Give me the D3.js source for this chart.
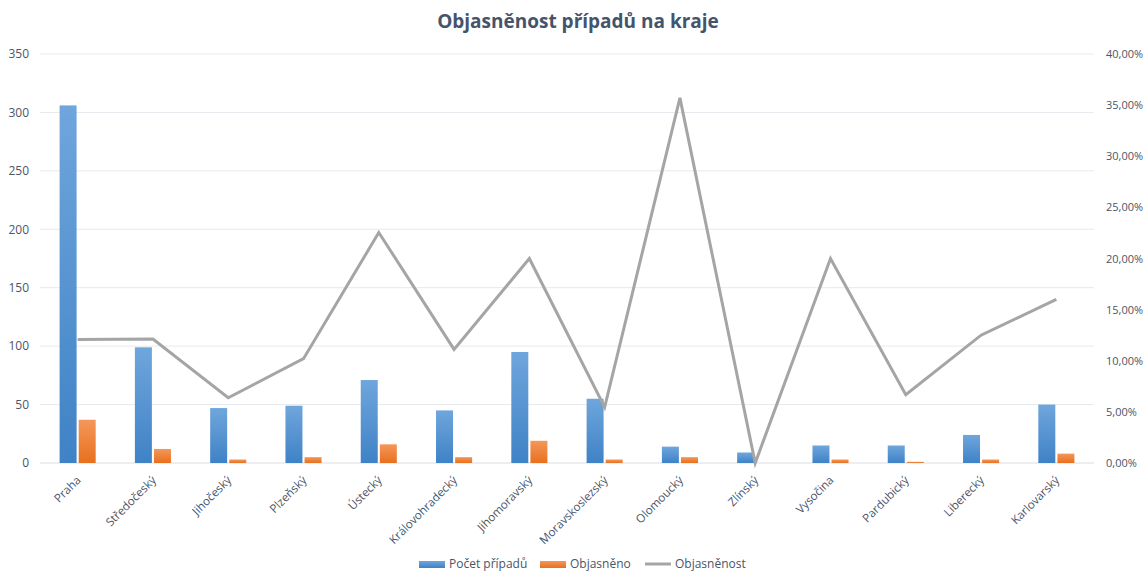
<!DOCTYPE html>
<html>
<head>
<meta charset="utf-8">
<script src="https://cdn.jsdelivr.net/npm/d3@7"></script>
<style>
  body { margin: 0; background: #fff; }
  text { font-family: "Open Sans", "Noto Sans", sans-serif; }
</style>
</head>
<body>
<script>
// kraje + hodnoty
var kraje = ["Praha", "Středočeský", "Jihočeský", "Plzeňský", "Ústecký", "Královohradecký",
  "Jihomoravský", "Moravskoslezský", "Olomoucký", "Zlínský", "Vysočina", "Pardubický",
  "Liberecký", "Karlovarský"];
var pocetPripadu = [306, 99, 47, 49, 71, 45, 95, 55, 14, 9, 15, 15, 24, 50];
var objasneno = [37, 12, 3, 5, 16, 5, 19, 3, 5, 0, 3, 1, 3, 8];
var objasnenost = [12.09, 12.12, 6.38, 10.20, 22.54, 11.11, 20.00, 5.45, 35.71, 0, 20.00, 6.67, 12.50, 16.00];
var leftTicks = [0, 50, 100, 150, 200, 250, 300, 350];
var rightTicks = [0, 5, 10, 15, 20, 25, 30, 35, 40];

var W = 1144, H = 577;
var margin = {top: 54, right: 50, bottom: 114, left: 40},
    width = W - margin.left - margin.right,
    height = H - margin.top - margin.bottom;

var svg = d3.select("body").append("svg")
    .attr("width", W)
    .attr("height", H);

var defs = svg.append("defs");
function grad(id, top, bottom) {
  var g = defs.append("linearGradient").attr("id", id)
      .attr("x1", 0).attr("y1", 0).attr("x2", 0).attr("y2", 1);
  g.append("stop").attr("offset", "0%").attr("stop-color", top);
  g.append("stop").attr("offset", "100%").attr("stop-color", bottom);
}
grad("gBlue", "#6fa6dc", "#3f82c6");
grad("gOrange", "#f4975a", "#e8701e");

var g = svg.append("g").attr("transform", "translate(" + margin.left + "," + margin.top + ")");

var x = d3.scaleBand().domain(kraje).range([0, width]);
var x1 = d3.scaleBand().domain(["p", "o"]).range([19.6, x.bandwidth() - 19.6]).paddingInner(0.11);
var y = d3.scaleLinear().domain([0, 350]).range([height, 0]);
var y2 = d3.scaleLinear().domain([0, 40]).range([height, 0]);

// gridlines
g.append("g").selectAll("line")
  .data(leftTicks)
  .enter().append("line")
    .attr("x1", 0).attr("x2", width)
    .attr("y1", function(d) { return y(d); })
    .attr("y2", function(d) { return y(d); })
    .attr("stroke", function(d) { return d === 0 ? "#d9dde4" : "#e6e9ee"; })
    .attr("stroke-width", 1);

// left axis
var axL = g.append("g")
    .call(d3.axisLeft(y).tickValues(leftTicks).tickSize(0).tickPadding(11));
axL.select(".domain").remove();
axL.selectAll("text").attr("fill", "#4a5568").style("font-size", "12px");

// right axis
var fmtPct = function(d) { return d.toFixed(2).replace(".", ",") + "%"; };
var axR = g.append("g")
    .attr("transform", "translate(" + width + ",0)")
    .call(d3.axisRight(y2).tickValues(rightTicks).tickSize(0).tickPadding(12).tickFormat(fmtPct));
axR.select(".domain").remove();
axR.selectAll("text").attr("fill", "#4a5568").style("font-size", "11px");

// x axis labels
var axB = g.append("g")
    .attr("transform", "translate(0," + height + ")")
    .call(d3.axisBottom(x).tickSize(0).tickPadding(0));
axB.select(".domain").remove();
axB.selectAll("text")
    .attr("fill", "#4a5568")
    .style("font-size", "11.6px")
    .style("text-anchor", "end")
    .attr("dy", "0.35em")
    .attr("transform", "translate(1,15) rotate(-45)");

// bars
var grp = g.append("g").selectAll("g")
  .data(kraje)
  .enter().append("g")
    .attr("transform", function(d) { return "translate(" + x(d) + ",0)"; });

grp.append("rect")
    .attr("x", x1("p"))
    .attr("width", x1.bandwidth())
    .attr("y", function(d, i) { return y(pocetPripadu[i]); })
    .attr("height", function(d, i) { return height - y(pocetPripadu[i]); })
    .attr("fill", "url(#gBlue)");

grp.append("rect")
    .attr("x", x1("o"))
    .attr("width", x1.bandwidth())
    .attr("y", function(d, i) { return y(objasneno[i]); })
    .attr("height", function(d, i) { return height - y(objasneno[i]); })
    .attr("fill", "url(#gOrange)");

// line
var line = d3.line()
    .x(function(d, i) { return x(kraje[i]) + x.bandwidth() / 2; })
    .y(function(d) { return y2(d); });

g.append("path")
    .datum(objasnenost)
    .attr("d", line)
    .attr("fill", "none")
    .attr("stroke", "#a5a5a5")
    .attr("stroke-width", 3)
    .attr("stroke-linejoin", "miter");

// title
svg.append("text")
    .attr("x", 578).attr("y", 28)
    .attr("text-anchor", "middle")
    .attr("fill", "#44546a")
    .style("font-size", "19px")
    .style("font-weight", "bold")
    .text("Objasněnost případů na kraje");

// legend
var legend = [
  {name: "Počet případů", type: "bar", fill: "url(#gBlue)", x: 419},
  {name: "Objasněno", type: "bar", fill: "url(#gOrange)", x: 540},
  {name: "Objasněnost", type: "line", fill: "#a5a5a5", x: 645}
];
var lg = svg.append("g").selectAll("g")
  .data(legend)
  .enter().append("g")
    .attr("transform", function(d) { return "translate(" + d.x + ",564)"; });
lg.filter(function(d) { return d.type === "bar"; }).append("rect")
    .attr("x", 0).attr("y", -3).attr("width", 26).attr("height", 7)
    .attr("fill", function(d) { return d.fill; });
lg.filter(function(d) { return d.type === "line"; }).append("line")
    .attr("x1", 0).attr("x2", 26).attr("y1", 0).attr("y2", 0)
    .attr("stroke", "#a5a5a5").attr("stroke-width", 3);
lg.append("text")
    .attr("x", 30).attr("y", 0).attr("dy", "0.35em")
    .attr("fill", "#4a5568")
    .style("font-size", "12px")
    .text(function(d) { return d.name; });
</script>
</body>
</html>
